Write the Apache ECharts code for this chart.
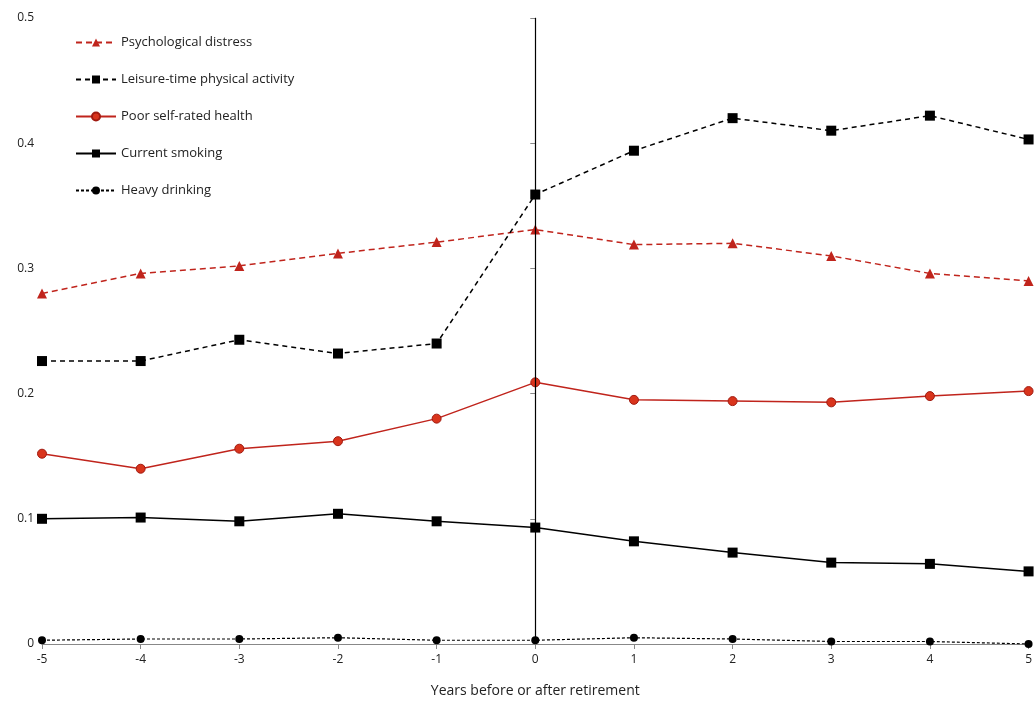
<!DOCTYPE html>
<html>
<head>
<meta charset="utf-8">
<script src="https://cdn.jsdelivr.net/npm/echarts@6/dist/echarts.min.js"></script>
<style>html,body{margin:0;padding:0;background:#fff}#c{width:1035px;height:707px}</style>
</head>
<body>
<div id="c"></div>
<script>
var years = [-5, -4, -3, -2, -1, 0, 1, 2, 3, 4, 5];
var distress = [0.280, 0.296, 0.302, 0.312, 0.321, 0.331, 0.319, 0.320, 0.310, 0.296, 0.290];
var leisure = [0.226, 0.226, 0.243, 0.232, 0.240, 0.359, 0.394, 0.420, 0.410, 0.422, 0.403];
var poorHealth = [0.152, 0.140, 0.156, 0.162, 0.180, 0.209, 0.195, 0.194, 0.193, 0.198, 0.202];
var smoking = [0.100, 0.101, 0.098, 0.104, 0.098, 0.093, 0.082, 0.073, 0.065, 0.064, 0.058];
var drinking = [0.003, 0.004, 0.004, 0.005, 0.003, 0.003, 0.005, 0.004, 0.002, 0.002, 0.000];

function pairs(v) { return years.map(function (x, i) { return [x, v[i]]; }); }

var chart = echarts.init(document.getElementById('c'));
var font = 'Open Sans, Liberation Sans, sans-serif';
chart.setOption({
  animation: false,
  textStyle: { fontFamily: font },
  grid: { left: 42, right: 5, top: 18, bottom: 63 },
  legend: {
    orient: 'vertical', left: 70, top: 31, itemGap: 24, itemWidth: 40, itemHeight: 10,
    textStyle: { fontSize: 13, color: '#222' },
    data: ['Psychological distress', 'Leisure-time physical activity', 'Poor self-rated health', 'Current smoking', 'Heavy drinking']
  },
  xAxis: {
    type: 'value', min: -5, max: 5, interval: 1,
    name: 'Years before or after retirement', nameLocation: 'middle', nameGap: 40,
    nameTextStyle: { fontSize: 14, color: '#222' },
    axisLine: { onZero: false, lineStyle: { color: '#888' } },
    axisTick: { show: true, lineStyle: { color: '#888' } },
    axisLabel: { color: '#222', fontSize: 12, margin: 10 },
    splitLine: { show: false }
  },
  yAxis: {
    type: 'value', min: 0, max: 0.5, interval: 0.1,
    axisLine: { show: true, lineStyle: { color: '#888' } },
    axisTick: { show: true, lineStyle: { color: '#888' } },
    axisLabel: { color: '#222', fontSize: 12, formatter: function (v) { return v === 0 ? '0' : v.toFixed(1); } },
    splitLine: { show: false }
  },
  series: [
    { name: 'Psychological distress', type: 'line', data: pairs(distress), symbol: 'triangle', symbolSize: 10,
      itemStyle: { color: '#c0241c' }, lineStyle: { color: '#c0241c', type: [6, 4], width: 1.5 },
      markLine: { silent: true, symbol: 'none', label: { show: false }, lineStyle: { color: '#000', type: 'solid', width: 1.2, opacity: 1 },
        data: [{ xAxis: 0 }] } },
    { name: 'Leisure-time physical activity', type: 'line', data: pairs(leisure), symbol: 'rect', symbolSize: 10,
      itemStyle: { color: '#000' }, lineStyle: { color: '#000', type: [5, 4], width: 1.5 } },
    { name: 'Poor self-rated health', type: 'line', data: pairs(poorHealth), symbol: 'circle', symbolSize: 9,
      itemStyle: { color: '#d9341c', borderColor: '#a01a10', borderWidth: 1 }, lineStyle: { color: '#c0241c', width: 1.5 } },
    { name: 'Current smoking', type: 'line', data: pairs(smoking), symbol: 'rect', symbolSize: 10,
      itemStyle: { color: '#000' }, lineStyle: { color: '#000', width: 1.5 } },
    { name: 'Heavy drinking', type: 'line', data: pairs(drinking), symbol: 'circle', symbolSize: 8,
      itemStyle: { color: '#000' }, lineStyle: { color: '#000', type: [3, 2], width: 1.2 } }
  ]
});
</script>
</body>
</html>
